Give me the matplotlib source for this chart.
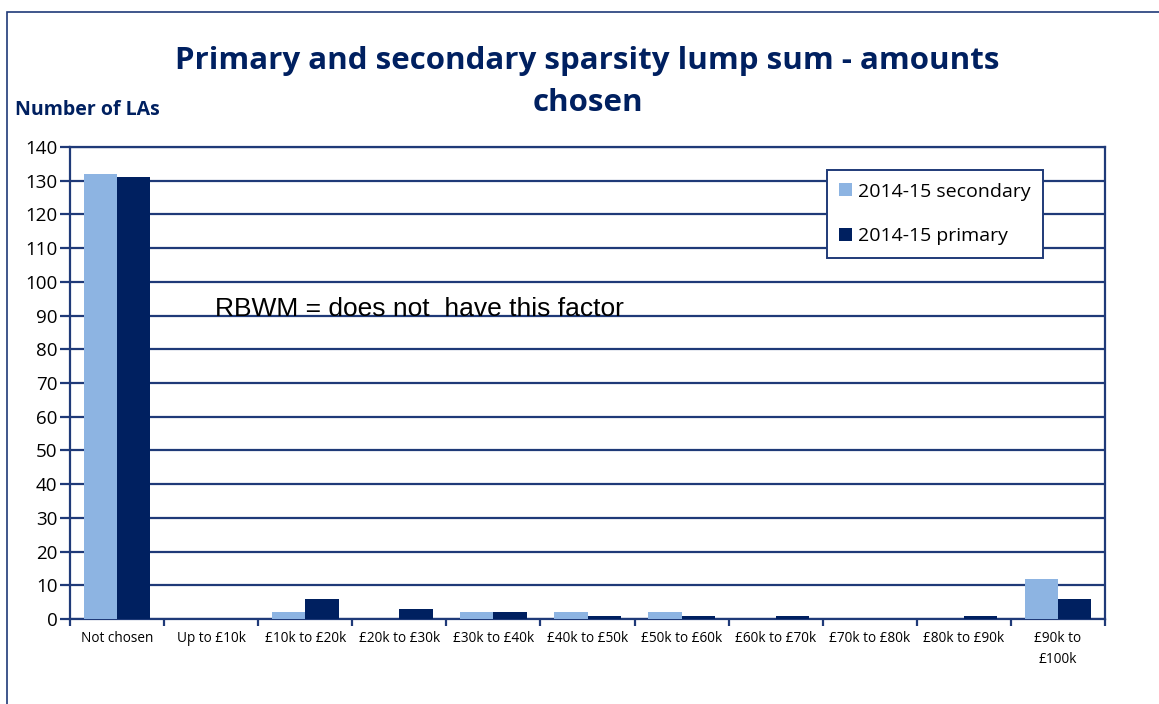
import numpy as np
import matplotlib.pyplot as plt
from matplotlib.patches import Rectangle

# data
categories = ["Not chosen", "Up to £10k", "£10k to £20k", "£20k to £30k", "£30k to £40k",
              "£40k to £50k", "£50k to £60k", "£60k to £70k", "£70k to £80k",
              "£80k to £90k", "£90k to\n£100k"]
secondary = [132, 0, 2, 0, 2, 2, 2, 0, 0, 0, 12]
primary = [131, 0, 6, 3, 2, 1, 1, 1, 0, 1, 6]

navy = "#002060"
light = "#8DB4E2"
grid_col = "#1F3A78"

plt.rcParams['font.family'] = ['Open Sans', 'DejaVu Sans']

fig = plt.figure(figsize=(11.59, 7.04), dpi=100)
ax = fig.add_axes([70 / 1159, 1 - 619 / 704, (1105 - 70) / 1159, (619 - 147) / 704])

x = np.arange(len(categories))
w = 0.355
ax.bar(x - w / 2, secondary, w, color=light, label="2014-15 secondary", zorder=3)
ax.bar(x + w / 2, primary, w, color=navy, label="2014-15 primary", zorder=3)

ax.set_xlim(-0.5, len(categories) - 0.5)
ax.set_ylim(0, 140)
ax.set_yticks(range(0, 141, 10))
ax.yaxis.grid(True, color=grid_col, linewidth=1.6, zorder=1)
ax.set_axisbelow(True)
ax.tick_params(axis='y', length=7, width=1.6, color=grid_col, labelsize=13.5, pad=2)

ax.set_xticks(x)
ax.set_xticklabels(categories, fontsize=9.8, linespacing=1.5)
ax.tick_params(axis='x', length=0, pad=9)
ax.set_xticks(np.arange(-0.5, len(categories), 1), minor=True)
ax.tick_params(axis='x', which='minor', length=5, width=1.6, color=grid_col)

for s in ['left', 'right', 'top', 'bottom']:
    ax.spines[s].set_color(grid_col)
    ax.spines[s].set_linewidth(1.6)

leg = ax.legend(loc='upper right', bbox_to_anchor=(0.940, 0.951), fontsize=14,
                handlelength=0.65, handleheight=0.65, handletextpad=0.3,
                labelspacing=1.35, borderpad=0.65, borderaxespad=0, frameon=True,
                fancybox=False, framealpha=1)
leg.get_frame().set_edgecolor(grid_col)
leg.get_frame().set_linewidth(1.4)

fig.text(215 / 1159, 1 - 316 / 704, "RBWM = does not  have this factor",
         fontsize=19, family='Liberation Sans', color='black', va='baseline', ha='left')

fig.text(0.507, 1 - 82 / 704, "Primary and secondary sparsity lump sum - amounts\nchosen",
         ha='center', va='center', fontsize=22.5, fontweight='bold', color=navy,
         linespacing=1.5)
fig.text(15 / 1159, 1 - 110 / 704, "Number of LAs", ha='left', va='center',
         fontsize=14, fontweight='bold', color=navy)

# outer chart border
fig.patches.append(Rectangle((7 / 1159, -0.1), 1.2, 1 - 12 / 704 + 0.1, transform=fig.transFigure,
                             fill=False, edgecolor=grid_col, linewidth=1.2))

fig.savefig("out.png", dpi=100)
